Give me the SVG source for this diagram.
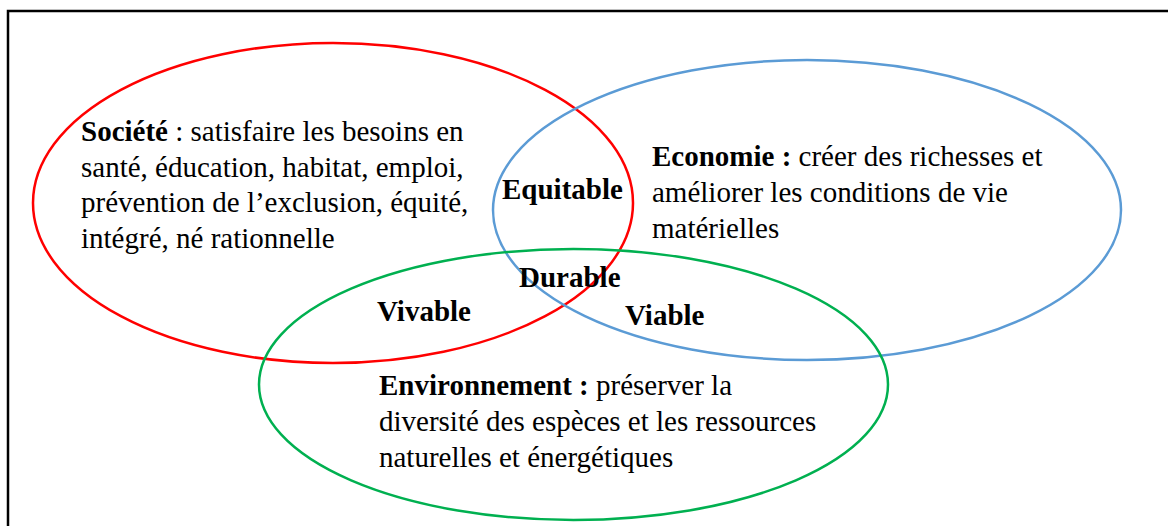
<svg xmlns="http://www.w3.org/2000/svg" width="1168" height="526" viewBox="0 0 1168 526">
<style>
text{font-family:"Liberation Serif","Times New Roman",serif;font-size:29px;fill:#000}
.b{font-weight:bold}
.e{fill:none;stroke-width:2.5}
</style>
<rect x="0" y="0" width="1168" height="526" fill="#fff"/>
<rect id="frame" x="8" y="11" width="1200" height="600" fill="none" stroke="#000" stroke-width="2.5"/>
<g id="societe">
<ellipse class="e" cx="333" cy="203" rx="300" ry="160" stroke="#FF0000"/>
<text x="81" y="141"><tspan class="b">Société</tspan> : satisfaire les besoins en</text>
<text x="81" y="177">santé, éducation, habitat, emploi,</text>
<text x="81" y="212">prévention de l’exclusion, équité,</text>
<text x="81" y="248">intégré, né rationnelle</text>
</g>
<g id="economie">
<ellipse class="e" cx="807" cy="210" rx="314" ry="150" stroke="#5B9BD5"/>
<text x="652" y="166"><tspan class="b">Economie :</tspan> créer des richesses et</text>
<text x="652" y="202">améliorer les conditions de vie</text>
<text x="652" y="238">matérielles</text>
</g>
<g id="environnement">
<ellipse class="e" cx="573.5" cy="384.5" rx="314.5" ry="135.5" stroke="#00B050"/>
<text x="379" y="395"><tspan class="b">Environnement :</tspan> préserver la</text>
<text x="379" y="431">diversité des espèces et les ressources</text>
<text x="379" y="467">naturelles et énergétiques</text>
</g>
<g id="equitable"><text class="b" x="502" y="199">Equitable</text></g>
<g id="durable"><text class="b" x="519" y="287">Durable</text></g>
<g id="vivable"><text class="b" x="377" y="321">Vivable</text></g>
<g id="viable"><text class="b" x="625" y="325">Viable</text></g>
<g id="connectors"></g>
</svg>
